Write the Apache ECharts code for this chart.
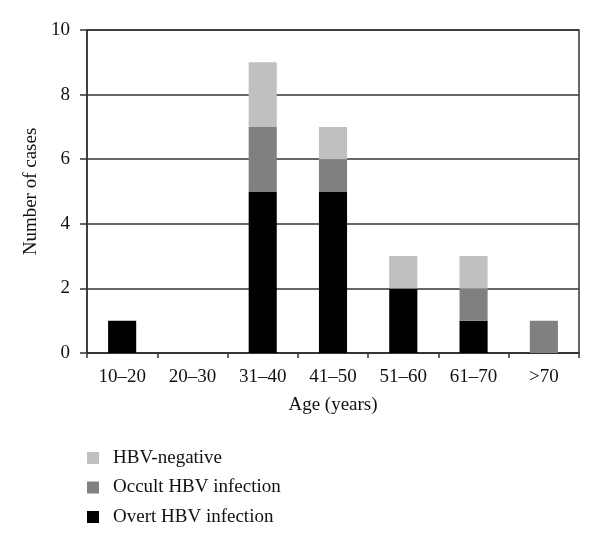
<!DOCTYPE html>
<html><head><meta charset="utf-8">
<script src="https://cdn.jsdelivr.net/npm/echarts@6/dist/echarts.min.js"></script>
<style>html,body{margin:0;padding:0;background:#fff}#c{width:600px;height:546px}</style>
</head><body><div id="c"></div>
<script>
const categories = ['10\u201320','20\u201330','31\u201340','41\u201350','51\u201360','61\u201370','>70'];
const overt = [1,0,5,5,2,1,0];
const occult = [0,0,2,1,0,1,1];
const negative = [0,0,2,1,1,1,0];
const yTicks = {min:0, max:10, interval:2};
const font = 'Liberation Serif';
const fs = 19;
const chart = echarts.init(document.getElementById('c'));
chart.setOption({
  animation:false,
  textStyle:{fontFamily:font},
  grid:{left:87,right:21,top:30,bottom:193,show:true,borderColor:'#333',borderWidth:1.5,containLabel:false},
  legend:{orient:'vertical',left:82,top:443,itemWidth:12,itemHeight:12,itemGap:9.5,icon:'rect',
    data:['HBV-negative','Occult HBV infection','Overt HBV infection'],
    textStyle:{fontFamily:font,fontSize:fs,lineHeight:20,color:'#111',padding:[0,0,0,9]}},
  xAxis:{type:'category',data:categories,
    name:'Age (years)',nameLocation:'middle',nameGap:43,
    nameTextStyle:{fontFamily:font,fontSize:fs,color:'#111'},
    axisLine:{lineStyle:{color:'#333',width:1.5}},
    axisTick:{show:true,length:5,lineStyle:{color:'#333',width:1.5}},
    axisLabel:{fontFamily:font,fontSize:fs,color:'#111',margin:15}},
  yAxis:{type:'value',min:yTicks.min,max:yTicks.max,interval:yTicks.interval,
    name:'Number of cases',nameLocation:'middle',nameGap:45,
    nameTextStyle:{fontFamily:font,fontSize:fs,color:'#111'},
    axisLine:{show:true,lineStyle:{color:'#333',width:1.5}},
    axisTick:{show:true,length:7,lineStyle:{color:'#333',width:1.5}},
    axisLabel:{fontFamily:font,fontSize:fs,color:'#111',margin:17},
    splitLine:{show:true,lineStyle:{color:'#333',width:1.5}}},
  series:[
    {name:'Overt HBV infection',type:'bar',stack:'a',data:overt,barWidth:'40%',itemStyle:{color:'#000'}},
    {name:'Occult HBV infection',type:'bar',stack:'a',data:occult,barWidth:'40%',itemStyle:{color:'#808080'}},
    {name:'HBV-negative',type:'bar',stack:'a',data:negative,barWidth:'40%',itemStyle:{color:'#c0c0c0'}}
  ]
});
</script></body></html>
